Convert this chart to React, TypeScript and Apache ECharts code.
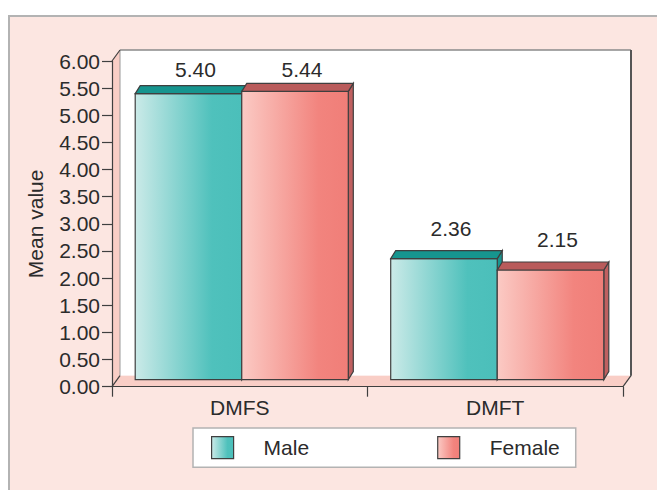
import React, { useEffect, useRef } from "react";
import * as echarts from "echarts";

const categories = ["DMFS", "DMFT"];
const maleValues = [5.4, 2.36];
const femaleValues = [5.44, 2.15];
const seriesNames = ["Male", "Female"];
const yMin = 0;
const yMax = 6;
const yStep = 0.5;

const FONT = "'Liberation Sans', Arial, Helvetica, sans-serif";
const FONT_SIZE = 21;
const TEXT = "#2b2b2b";
const EDGE = "#3f3f3f";
const PANEL = "#fce6e1";
const WALL_PINK = "#f9cec6";

const maleFront = () =>
  new echarts.graphic.LinearGradient(0, 0, 1, 0, [
    { offset: 0, color: "#cbeae8" },
    { offset: 0.72, color: "#4fc1bc" },
    { offset: 1, color: "#4bbfba" },
  ]);
const femaleFront = () =>
  new echarts.graphic.LinearGradient(0, 0, 1, 0, [
    { offset: 0, color: "#fbcac4" },
    { offset: 0.72, color: "#f2847e" },
    { offset: 1, color: "#f07e78" },
  ]);

// share of the category band taken by one bar, and the shift of the pair
const BAR_RATIO = 0.417;
const PAIR_SHIFT = 2;
// depth of the bar blocks and of the chart box
const BAR_DX = 5;
const BAR_DY = -8;
const BOX_DX = 8;
const BOX_DY = -11;

function barRenderer(isFemale: boolean) {
  const topColor = isFemale ? "#b95b5b" : "#16958f";
  const sideColor = isFemale ? "#c06060" : "#1a9590";
  return (params: any, api: any) => {
    const cat = api.value(0);
    const v = api.value(1);
    const top = api.coord([cat, v]);
    const base = api.coord([cat, 0]);
    const band = api.size([1, 0])[0];
    const w = band * BAR_RATIO;
    const cx = top[0] + PAIR_SHIFT;
    const x = isFemale ? cx : cx - w;
    const yt = top[1];
    const yb = base[1] + BOX_DY * 0.65;
    const edge = { stroke: EDGE, lineWidth: 1.2, lineJoin: "miter" };
    return {
      type: "group",
      children: [
        {
          type: "polygon",
          shape: {
            points: [
              [x + w, yt],
              [x + w + BAR_DX, yt + BAR_DY],
              [x + w + BAR_DX, yb + BAR_DY],
              [x + w, yb],
            ],
          },
          style: { fill: sideColor, ...edge },
        },
        {
          type: "rect",
          shape: { x, y: yt, width: w, height: yb - yt },
          style: { fill: isFemale ? femaleFront() : maleFront(), ...edge },
        },
        {
          type: "polygon",
          shape: {
            points: [
              [x, yt],
              [x + BAR_DX, yt + BAR_DY],
              [x + w + BAR_DX, yt + BAR_DY],
              [x + w, yt],
            ],
          },
          style: { fill: topColor, ...edge },
        },
        {
          type: "text",
          style: {
            text: v.toFixed(2),
            x: x + w / 2 + 7,
            y: Math.max(yt - 30, params.coordSys.y + 8),
            align: "center",
            verticalAlign: "middle",
            fontSize: FONT_SIZE,
            fontFamily: FONT,
            fill: TEXT,
          },
        },
      ],
    };
  };
}

// back wall, left wall and floor of the chart box
function frameRenderer(params: any) {
  const cs = params.coordSys;
  const x0 = cs.x;
  const y0 = cs.y;
  const x1 = cs.x + cs.width;
  const y1 = cs.y + cs.height;
  const line = (a: number[], b: number[], stroke: string, lineWidth: number) => ({
    type: "line",
    shape: { x1: a[0], y1: a[1], x2: b[0], y2: b[1] },
    style: { stroke, lineWidth },
  });
  return {
    type: "group",
    children: [
      {
        type: "rect",
        shape: { x: x0 + BOX_DX, y: y0 + BOX_DY, width: x1 - x0, height: y1 - y0 },
        style: { fill: "#ffffff" },
      },
      {
        type: "polygon",
        shape: {
          points: [
            [x0, y0],
            [x0 + BOX_DX, y0 + BOX_DY],
            [x0 + BOX_DX, y1 + BOX_DY],
            [x0, y1],
          ],
        },
        style: { fill: WALL_PINK },
      },
      {
        type: "polygon",
        shape: {
          points: [
            [x0, y1],
            [x1, y1],
            [x1 + BOX_DX, y1 + BOX_DY],
            [x0 + BOX_DX, y1 + BOX_DY],
          ],
        },
        style: { fill: WALL_PINK },
      },
      line([x0 + BOX_DX, y0 + BOX_DY], [x1 + BOX_DX, y0 + BOX_DY], "#8a8a8a", 1.5),
      line([x1 + BOX_DX, y0 + BOX_DY], [x1 + BOX_DX, y1 + BOX_DY], "#555555", 2),
      line([x0 + BOX_DX, y0 + BOX_DY], [x0 + BOX_DX, y1 + BOX_DY], "#9a9a9a", 1),
      line([x0, y0], [x0 + BOX_DX, y0 + BOX_DY], EDGE, 1.2),
      line([x0, y1], [x0 + BOX_DX, y1 + BOX_DY], EDGE, 1.2),
      line([x1, y1], [x1 + BOX_DX, y1 + BOX_DY], EDGE, 1.2),
    ],
  };
}

export default function App() {
  const ref = useRef<HTMLDivElement>(null);

  useEffect(() => {
    if (!ref.current) return;
    const chart = echarts.init(ref.current, null, { renderer: "svg" });
    const toPairs = (vals: number[]) => vals.map((v, i) => [i, v]);

    chart.setOption({
      animation: false,
      backgroundColor: "#ffffff",
      textStyle: { fontFamily: FONT },
      graphic: [
        {
          type: "rect",
          left: 8,
          top: 15,
          z: -100,
          silent: true,
          shape: { width: 700, height: 520 },
          style: { fill: PANEL, stroke: "#b3b3b3", lineWidth: 2 },
        },
      ],
      grid: { left: 112, top: 61, width: 511, height: 325.7 },
      legend: {
        left: 193,
        top: 428,
        orient: "horizontal",
        itemWidth: 22,
        itemHeight: 22,
        itemGap: 128,
        padding: [8, 16, 8, 18],
        backgroundColor: "#ffffff",
        borderColor: "#b3b3b3",
        borderWidth: 1.5,
        borderRadius: 0,
        selectedMode: false,
        textStyle: { fontSize: FONT_SIZE, color: TEXT, fontFamily: FONT, padding: [0, 0, 0, 25] },
        data: [
          {
            name: seriesNames[0],
            icon: "rect",
            itemStyle: { color: maleFront(), borderColor: EDGE, borderWidth: 1.2 },
          },
          {
            name: seriesNames[1],
            icon: "rect",
            itemStyle: { color: femaleFront(), borderColor: EDGE, borderWidth: 1.2 },
          },
        ],
      },
      xAxis: {
        type: "category",
        data: categories,
        z: 5,
        axisLine: { show: true, lineStyle: { color: EDGE, width: 1.2 } },
        axisTick: { show: true, length: 10, lineStyle: { color: EDGE, width: 1.2 } },
        axisLabel: { fontSize: FONT_SIZE, color: TEXT, fontFamily: FONT, margin: 10 },
        splitLine: { show: false },
      },
      yAxis: {
        type: "value",
        min: yMin,
        max: yMax,
        interval: yStep,
        z: 5,
        name: "Mean value",
        nameLocation: "middle",
        nameGap: 66,
        nameTextStyle: { fontSize: FONT_SIZE, color: TEXT, fontFamily: FONT },
        axisLine: { show: true, lineStyle: { color: EDGE, width: 1.2 } },
        axisTick: { show: true, length: 10, lineStyle: { color: EDGE, width: 1.2 } },
        axisLabel: {
          fontSize: FONT_SIZE,
          color: TEXT,
          fontFamily: FONT,
          margin: 12,
          formatter: (v: number) => v.toFixed(2),
        },
        splitLine: { show: false },
      },
      series: [
        {
          name: "frame",
          type: "custom",
          silent: true,
          z: 1,
          data: [[0, 0]],
          encode: { x: 0, y: 1 },
          renderItem: frameRenderer,
        },
        {
          name: seriesNames[0],
          type: "custom",
          z: 3,
          itemStyle: { color: "#4bbfba" },
          data: toPairs(maleValues),
          encode: { x: 0, y: 1 },
          renderItem: barRenderer(false),
        },
        {
          name: seriesNames[1],
          type: "custom",
          z: 3,
          itemStyle: { color: "#f07e78" },
          data: toPairs(femaleValues),
          encode: { x: 0, y: 1 },
          renderItem: barRenderer(true),
        },
      ],
    });

    return () => chart.dispose();
  }, []);

  return (
    <div
      ref={ref}
      style={{ position: "fixed", left: 0, top: 0, width: 657, height: 490, background: "#fff" }}
    />
  );
}
